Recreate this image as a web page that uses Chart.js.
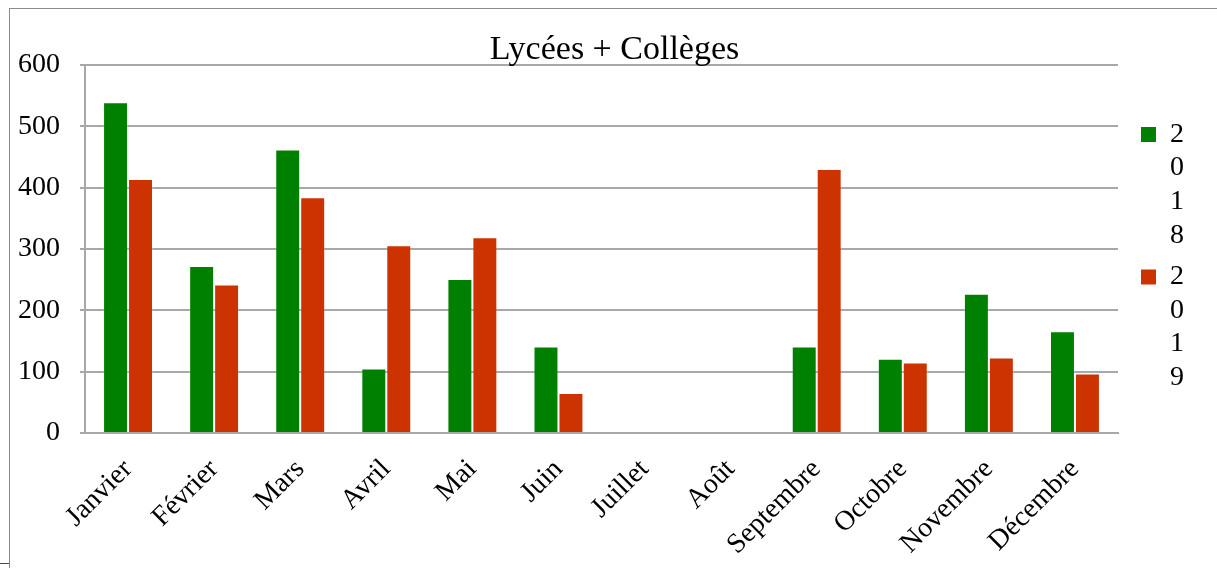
<!DOCTYPE html>
<html>
<head>
<meta charset="utf-8">
<script src="https://cdn.jsdelivr.net/npm/chart.js@4"></script>
<style>
  body { margin: 0; background: #fff; overflow: hidden; }
  #wrap { position: relative; width: 1217px; height: 568px; }
  #frame { position: absolute; left: 9px; top: 8px; width: 1400px; height: 700px; border: 1px solid #8c8c8c; }
  #mark { position: absolute; left: 0; top: 563px; width: 9px; height: 1px; background: #e00; }
</style>
</head>
<body>
<div id="wrap">
  <canvas id="chart"></canvas>
  <div id="frame"></div>
  <div id="mark"></div>
</div>
<script>
// data
const months = ['Janvier', 'Février', 'Mars', 'Avril', 'Mai', 'Juin', 'Juillet', 'Août',
  'Septembre', 'Octobre', 'Novembre', 'Décembre'];
const values2018 = [539, 272, 462, 105, 251, 141, null, null, 141, 121, 227, 166];
const values2019 = [414, 242, 384, 306, 319, 65, null, null, 430, 115, 123, 97];
const seriesNames = ['2018', '2019'];

const serif = 'Liberation Serif, Times New Roman, serif';

// nudges legend/title into the spots they occupy in the original
const shiftBoxes = {
  id: 'shiftBoxes',
  afterLayout(chart) {
    const lg = chart.legend;
    if (lg) {
      lg.left += 15; lg.right += 15;
      lg.top += 10; lg.bottom += 10;
    }
    const t = chart.titleBlock;
    if (t) { t.left += 20; t.right += 20; }
  }
};

const ctx = document.getElementById('chart').getContext('2d');

const chart = new Chart(ctx, {
  type: 'bar',
  data: {
    labels: months,
    datasets: [{
      label: seriesNames[0],
      data: values2018,
      backgroundColor: '#008000',
      borderColor: 'rgba(255,255,255,0.2)',
      borderWidth: 1
    }, {
      label: seriesNames[1],
      data: values2019,
      backgroundColor: '#cc3300',
      borderColor: 'rgba(255,255,255,0.2)',
      borderWidth: 1
    }]
  },
  options: {
    responsive: true,
    maintainAspectRatio: false,
    animation: false,
    datasets: { bar: { categoryPercentage: 0.58, barPercentage: 1.0 } },
    layout: { padding: { left: 10, right: 38, top: 30, bottom: 8 } },
    scales: {
      x: {
        grid: { display: false },
        border: { display: true, color: '#a8a8a8', width: 2 },
        ticks: {
          color: '#000',
          font: { family: serif, size: 28 },
          minRotation: 45,
          maxRotation: 45,
          padding: 12
        },
        afterFit: s => { s.height = 127; }
      },
      y: {
        min: 0,
        max: 600,
        ticks: {
          stepSize: 100,
          color: '#000',
          font: { family: serif, size: 28 },
          padding: 20
        },
        grid: { color: '#a8a8a8', lineWidth: 2, tickLength: 5 },
        border: { display: true, color: '#a8a8a8', width: 2 },
        afterFit: s => { s.width = 75; }
      }
    },
    plugins: {
      title: {
        display: true,
        text: 'Lycées + Collèges',
        color: '#000',
        font: { family: serif, size: 34, weight: 'normal', lineHeight: 1.2 },
        padding: { top: 0, bottom: -6 }
      },
      legend: {
        position: 'right',
        fullSize: false,
        labels: {
          color: '#000',
          font: { family: serif, size: 28, lineHeight: 1.2 },
          boxWidth: 15,
          boxHeight: 15,
          padding: 8,
          generateLabels: c => c.data.datasets.map((ds, i) => ({
            text: ds.label.split(''),
            fillStyle: ds.backgroundColor,
            strokeStyle: ds.backgroundColor,
            lineWidth: 0,
            hidden: false,
            datasetIndex: i
          }))
        }
      },
      tooltip: { enabled: false }
    }
  },
  plugins: [shiftBoxes]
});
</script>
</body>
</html>
